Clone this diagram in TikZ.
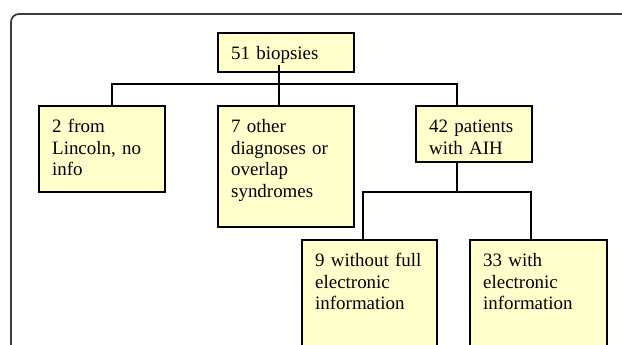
\documentclass[tikz,border=0pt]{standalone}
\usepackage{fontspec}
\setmainfont{Liberation Serif}
\definecolor{boxfill}{RGB}{255,255,204}
\definecolor{framegray}{RGB}{60,60,60}
\begin{document}
\begin{tikzpicture}[x=0.75pt, y=-0.75pt,
            bx/.style={draw=black, fill=boxfill, line width=1.3pt, anchor=north west,
            align=left, inner xsep=10pt, inner ysep=0pt, text height=19.9pt,
            font=\fontsize{14.2}{16.3}\selectfont},
            ln/.style={line width=1.3pt}]
            \useasboundingbox (0,0) rectangle (622,345);
            \clip (0,0) rectangle (622,345);

            \draw[line width=1.3pt, draw=framegray, rounded corners=6pt] (11,420) |- (720,14);

            \node[bx, text width=82pt, text depth=9.4pt] (top) at (217,32) {51 biopsies};
            \node[bx, text width=74.5pt, text depth=44.6pt] (b1) at (38,105) {2 from\\Lincoln, no\\info};
            \node[bx, text width=82pt, text depth=70.9pt] (b2) at (217,105) {7 other\\diagnoses or\\overlap\\syndromes};
            \node[bx, text width=67pt, text depth=22.1pt] (b3) at (415,105) {42 patients\\with AIH};
            \node[bx, text width=81.25pt, text depth=92.6pt] (b4) at (301,239) {9 without full\\electronic\\information};
            \node[bx, text width=82.75pt, text depth=92.6pt] (b5) at (469,239) {33 with\\electronic\\information};

            \coordinate (j1) at (279,84);
            \coordinate (jl) at (112,84);
            \coordinate (jr) at (457,84);
            \coordinate (k) at (457,192);
            \coordinate (kl) at (363,192);
            \coordinate (kr) at (531,192);

            \draw[ln] ([yshift=6pt]j1 |- top.south) to (j1 |- b2.north);
            \draw[ln] (jl |- b1.north) |- (jr) -- (jr |- b3.north);

            \draw[ln] (k |- b3.south) to (k);
            \draw[ln] (kl |- b4.north) |- (kr) -- (kr |- b5.north);
        \end{tikzpicture}
\end{document}
